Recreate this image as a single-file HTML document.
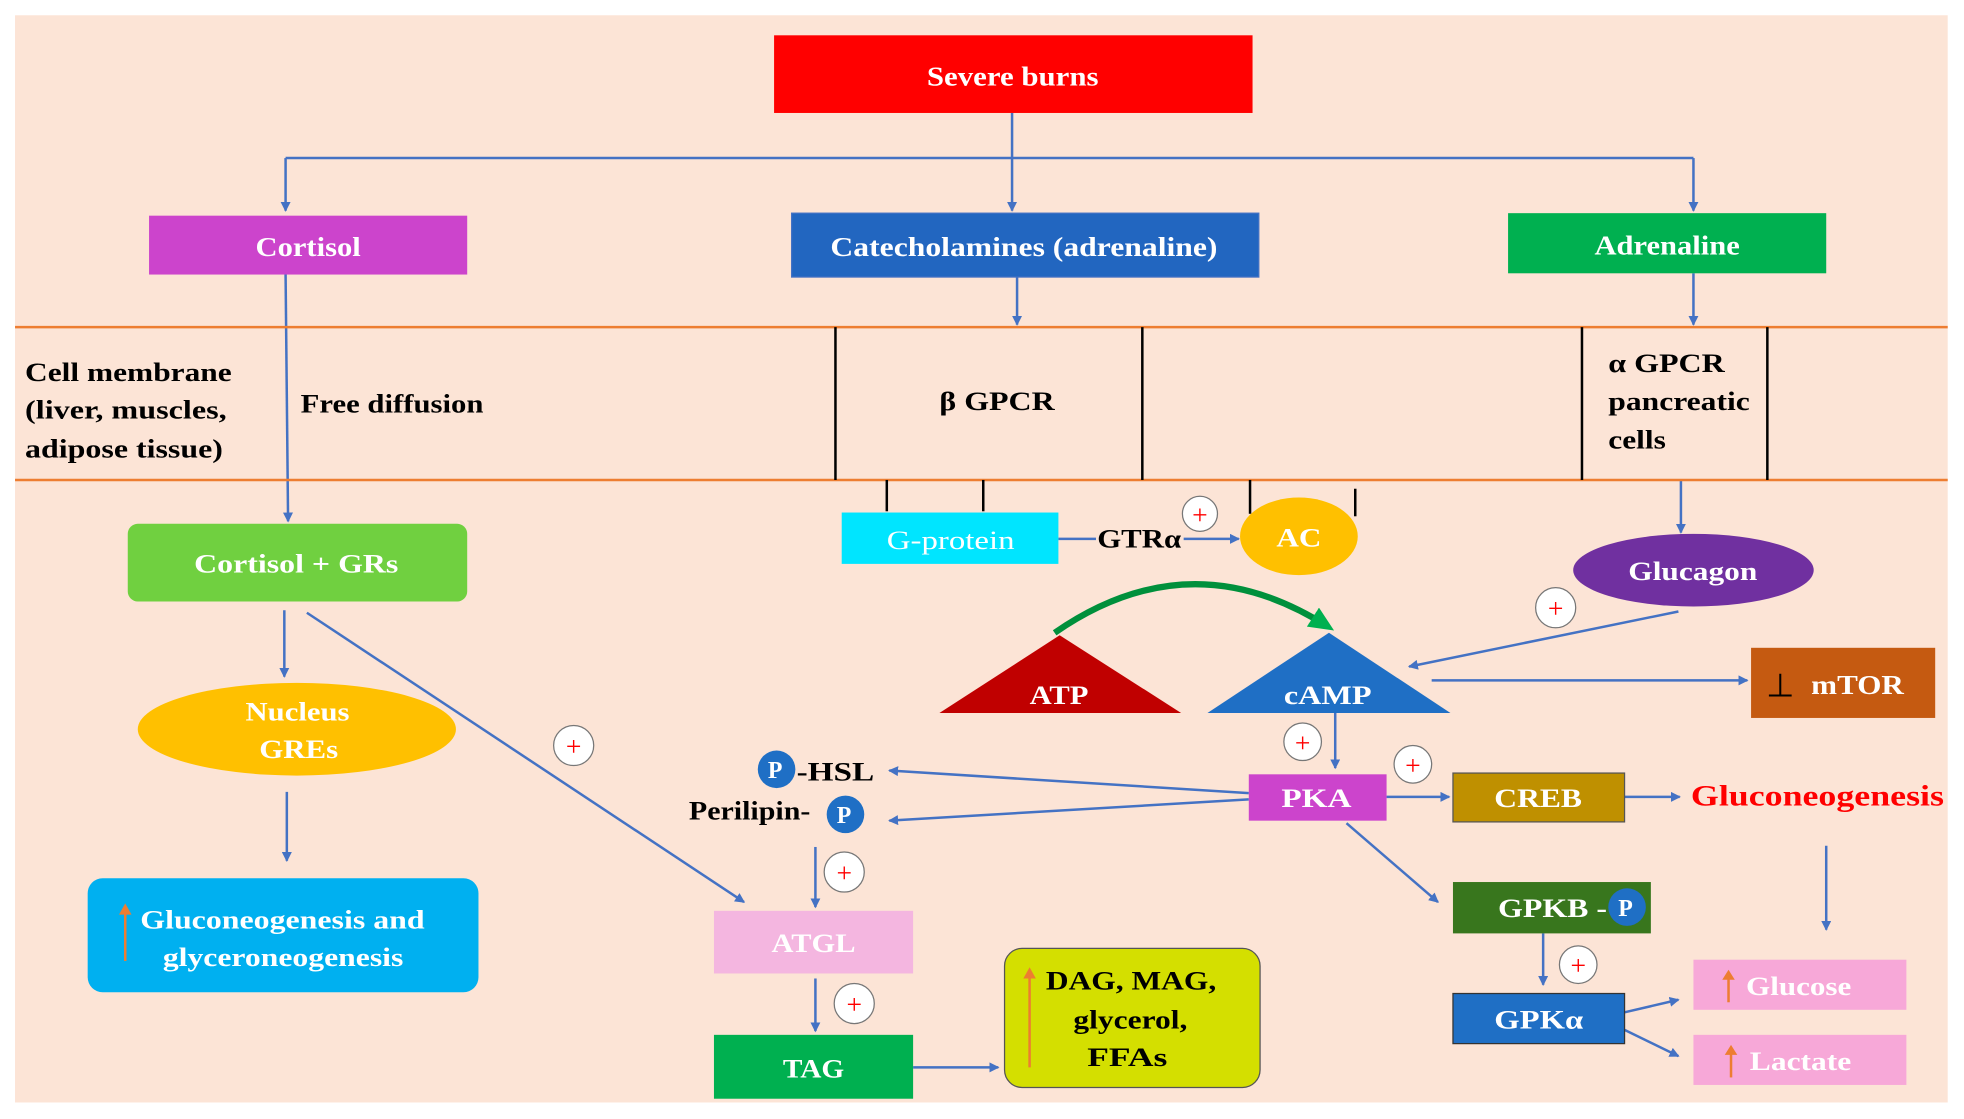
<!DOCTYPE html>
<html><head><meta charset="utf-8"><style>
html,body{margin:0;padding:0;background:#fff;}
svg{display:block;}
text{font-family:"Liberation Serif",serif;font-weight:bold;}
</style></head><body>
<svg width="1964" height="1119" viewBox="0 0 1568 893" xmlns="http://www.w3.org/2000/svg">
<defs>
<marker id="a" markerWidth="8" markerHeight="8" refX="7" refY="4" orient="auto" markerUnits="userSpaceOnUse"><path d="M0,0 L8,4 L0,8 z" fill="#4472c4"/></marker>
<marker id="g" markerWidth="22" markerHeight="18" refX="14" refY="9" orient="auto" markerUnits="userSpaceOnUse"><path d="M0,0 L20,9 L0,18 z" fill="#00b050"/></marker>
</defs>
<rect x="12" y="12" width="1543" height="868" fill="#fce4d6"/>
<g stroke="#4472c4" stroke-width="2" fill="none">
<line x1="228" y1="126" x2="1352" y2="126"/>
<line x1="228" y1="126" x2="228" y2="168" marker-end="url(#a)"/>
<line x1="808" y1="90" x2="808" y2="168" marker-end="url(#a)"/>
<line x1="1352" y1="126" x2="1352" y2="168" marker-end="url(#a)"/>
<line x1="812" y1="221" x2="812" y2="259" marker-end="url(#a)"/>
<line x1="1352" y1="218" x2="1352" y2="259" marker-end="url(#a)"/>
<line x1="228" y1="219" x2="230" y2="416" marker-end="url(#a)"/>
<line x1="845" y1="430" x2="875" y2="430"/>
<line x1="945" y1="430" x2="989" y2="430" marker-end="url(#a)"/>
<line x1="1342" y1="383" x2="1342" y2="425" marker-end="url(#a)"/>
<line x1="1340" y1="488" x2="1125" y2="532" marker-end="url(#a)"/>
<line x1="1143" y1="543" x2="1395" y2="543" marker-end="url(#a)"/>
<line x1="1066" y1="569" x2="1066" y2="613" marker-end="url(#a)"/>
<line x1="1107" y1="636" x2="1157" y2="636" marker-end="url(#a)"/>
<line x1="1297" y1="636" x2="1341" y2="636" marker-end="url(#a)"/>
<line x1="997" y1="633" x2="710" y2="615" marker-end="url(#a)"/>
<line x1="997" y1="638" x2="710" y2="655" marker-end="url(#a)"/>
<line x1="1075" y1="657" x2="1148" y2="720" marker-end="url(#a)"/>
<line x1="1232" y1="745" x2="1232" y2="786" marker-end="url(#a)"/>
<line x1="1297" y1="808" x2="1340" y2="798" marker-end="url(#a)"/>
<line x1="1297" y1="822" x2="1340" y2="843" marker-end="url(#a)"/>
<line x1="1458" y1="675" x2="1458" y2="742" marker-end="url(#a)"/>
<line x1="227" y1="487" x2="227" y2="540" marker-end="url(#a)"/>
<line x1="229" y1="632" x2="229" y2="687" marker-end="url(#a)"/>
<line x1="245" y1="489" x2="594" y2="720" marker-end="url(#a)"/>
<line x1="651" y1="676" x2="651" y2="724" marker-end="url(#a)"/>
<line x1="651" y1="781" x2="651" y2="823" marker-end="url(#a)"/>
<line x1="729" y1="852" x2="797" y2="852" marker-end="url(#a)"/>
</g>
<g stroke="#ed7d31" stroke-width="2"><line x1="12" y1="261" x2="1555" y2="261"/><line x1="12" y1="383" x2="1555" y2="383"/></g>
<g stroke="#000" stroke-width="2">
<line x1="667" y1="261" x2="667" y2="383"/><line x1="912" y1="261" x2="912" y2="383"/>
<line x1="1263" y1="261" x2="1263" y2="383"/><line x1="1411" y1="261" x2="1411" y2="383"/>
<line x1="708" y1="383" x2="708" y2="408"/><line x1="785" y1="383" x2="785" y2="408"/>
<line x1="998" y1="383" x2="998" y2="410"/><line x1="1082" y1="390" x2="1082" y2="412"/>
</g>
<rect x="618" y="28" width="382" height="62" fill="#ff0000"/>
<text x="740" y="68" font-size="22" fill="#fff" textLength="137" lengthAdjust="spacingAndGlyphs">Severe burns</text>
<rect x="119" y="172" width="254" height="47" fill="#cc44cc"/>
<text x="204" y="204" font-size="22" fill="#fff" textLength="84" lengthAdjust="spacingAndGlyphs">Cortisol</text>
<rect x="632" y="170" width="373" height="51" fill="#2266c0" stroke="#4472c4"/>
<text x="663" y="204" font-size="22" fill="#fff" textLength="309" lengthAdjust="spacingAndGlyphs">Catecholamines (adrenaline)</text>
<rect x="1204" y="170" width="254" height="48" fill="#00b050"/>
<text x="1273" y="203" font-size="22" fill="#fff" textLength="116" lengthAdjust="spacingAndGlyphs">Adrenaline</text>
<g font-size="21" fill="#000">
<text x="20" y="304" textLength="165" lengthAdjust="spacingAndGlyphs">Cell membrane</text>
<text x="20" y="334" textLength="161" lengthAdjust="spacingAndGlyphs">(liver, muscles,</text>
<text x="20" y="365" textLength="158" lengthAdjust="spacingAndGlyphs">adipose tissue)</text>
<text x="240" y="329" textLength="146" lengthAdjust="spacingAndGlyphs">Free diffusion</text>
<text x="750" y="327" textLength="92" lengthAdjust="spacingAndGlyphs">β GPCR</text>
<text x="1284" y="297" textLength="93" lengthAdjust="spacingAndGlyphs">α GPCR</text>
<text x="1284" y="327" textLength="113" lengthAdjust="spacingAndGlyphs">pancreatic</text>
<text x="1284" y="358" textLength="46" lengthAdjust="spacingAndGlyphs">cells</text>
</g>
<rect x="672" y="409" width="173" height="41" fill="#00e5ff"/>
<text x="708" y="438" font-size="21" fill="#fff" font-weight="normal" style="font-weight:normal" textLength="102" lengthAdjust="spacingAndGlyphs">G-protein</text>
<text x="876" y="437" font-size="21" fill="#000" textLength="67" lengthAdjust="spacingAndGlyphs">GTRα</text>
<ellipse cx="1037" cy="428" rx="47" ry="31" fill="#ffc000"/>
<text x="1019" y="436" font-size="21" fill="#fff" textLength="36" lengthAdjust="spacingAndGlyphs">AC</text>
<ellipse cx="1352" cy="455" rx="96" ry="29" fill="#7030a0"/>
<text x="1300" y="463" font-size="21" fill="#fff" textLength="103" lengthAdjust="spacingAndGlyphs">Glucagon</text>
<path d="M842,505 Q950,430 1060,500" stroke="#00903c" stroke-width="5" fill="none" marker-end="url(#g)"/>
<polygon points="750,569 943,569 846,507" fill="#c00000"/>
<text x="822" y="562" font-size="21" fill="#fff" textLength="47" lengthAdjust="spacingAndGlyphs">ATP</text>
<polygon points="964,569 1158,569 1061,505" fill="#1f6fc5"/>
<text x="1025" y="562" font-size="21" fill="#fff" textLength="70" lengthAdjust="spacingAndGlyphs">cAMP</text>
<rect x="1398" y="517" width="147" height="56" fill="#c55a11"/>
<text x="1410" y="556" font-size="26" fill="#000" style="font-weight:normal">⊥</text>
<text x="1446" y="554" font-size="22" fill="#fff" textLength="74" lengthAdjust="spacingAndGlyphs">mTOR</text>
<rect x="997" y="618" width="110" height="37" fill="#cc44cc"/>
<text x="1023" y="644" font-size="21" fill="#fff" textLength="56" lengthAdjust="spacingAndGlyphs">PKA</text>
<rect x="1160" y="617" width="137" height="39" fill="#bf9000" stroke="#555"/>
<text x="1193" y="644" font-size="21" fill="#fff" textLength="70" lengthAdjust="spacingAndGlyphs">CREB</text>
<text x="1350" y="643" font-size="24" fill="#ff0000" textLength="202" lengthAdjust="spacingAndGlyphs">Gluconeogenesis</text>
<circle cx="620" cy="614" r="15" fill="#1f6fc5"/><text x="613" y="621" font-size="19" fill="#fff">P</text>
<text x="636" y="623" font-size="21" fill="#000" textLength="62" lengthAdjust="spacingAndGlyphs">-HSL</text>
<text x="550" y="654" font-size="21" fill="#000" textLength="97" lengthAdjust="spacingAndGlyphs">Perilipin-</text>
<circle cx="675" cy="650" r="15" fill="#1f6fc5"/><text x="668" y="657" font-size="19" fill="#fff">P</text>
<rect x="1160" y="704" width="158" height="41" fill="#38761d"/>
<text x="1196" y="732" font-size="21" fill="#fff" textLength="87" lengthAdjust="spacingAndGlyphs">GPKB -</text>
<circle cx="1299" cy="724" r="15" fill="#1f6fc5"/><text x="1292" y="731" font-size="19" fill="#fff">P</text>
<rect x="1160" y="793" width="137" height="40" fill="#1f6fc5" stroke="#333"/>
<text x="1193" y="821" font-size="21" fill="#fff" textLength="71" lengthAdjust="spacingAndGlyphs">GPKα</text>
<rect x="1352" y="766" width="170" height="40" fill="#f7a8d8"/>
<text x="1394" y="794" font-size="21" fill="#fff" textLength="84" lengthAdjust="spacingAndGlyphs">Glucose</text>
<rect x="1352" y="826" width="170" height="40" fill="#f7a8d8"/>
<text x="1397" y="854" font-size="21" fill="#fff" textLength="81" lengthAdjust="spacingAndGlyphs">Lactate</text>
<rect x="102" y="418" width="271" height="62" rx="8" fill="#70d040"/>
<text x="155" y="457" font-size="21" fill="#fff" textLength="163" lengthAdjust="spacingAndGlyphs">Cortisol + GRs</text>
<ellipse cx="237" cy="582" rx="127" ry="37" fill="#ffc000"/>
<text x="196" y="575" font-size="21" fill="#fff" textLength="83" lengthAdjust="spacingAndGlyphs">Nucleus</text>
<text x="207" y="605" font-size="21" fill="#fff" textLength="63" lengthAdjust="spacingAndGlyphs">GREs</text>
<rect x="70" y="701" width="312" height="91" rx="12" fill="#00b0f0"/>
<text x="112" y="741" font-size="21" fill="#fff" textLength="227" lengthAdjust="spacingAndGlyphs">Gluconeogenesis  and</text>
<text x="130" y="771" font-size="21" fill="#fff" textLength="192" lengthAdjust="spacingAndGlyphs">glyceroneogenesis</text>
<rect x="570" y="727" width="159" height="50" fill="#f4b6e0"/>
<text x="616" y="760" font-size="21" fill="#fff" textLength="67" lengthAdjust="spacingAndGlyphs">ATGL</text>
<rect x="570" y="826" width="159" height="51" fill="#00b050"/>
<text x="625" y="860" font-size="21" fill="#fff" textLength="49" lengthAdjust="spacingAndGlyphs">TAG</text>
<rect x="802" y="757" width="204" height="111" rx="14" fill="#d4df00" stroke="#555"/>
<text x="835" y="790" font-size="21" fill="#000" textLength="136" lengthAdjust="spacingAndGlyphs">DAG, MAG,</text>
<text x="857" y="821" font-size="21" fill="#000" textLength="91" lengthAdjust="spacingAndGlyphs">glycerol,</text>
<text x="868" y="851" font-size="21" fill="#000" textLength="64" lengthAdjust="spacingAndGlyphs">FFAs</text>
<g stroke="#ed7d31" stroke-width="2"><line x1="1380" y1="800" x2="1380" y2="778"/><line x1="1382" y1="860" x2="1382" y2="838"/><line x1="100" y1="767" x2="100" y2="726"/><line x1="822" y1="852" x2="822" y2="777"/></g>
<g fill="#ed7d31"><path d="M1375,782 L1380,774 L1385,782z"/><path d="M1377,842 L1382,834 L1387,842z"/><path d="M95,730 L100,721 L105,730z"/><path d="M817,781 L822,772 L827,781z"/></g>
<g fill="#fff" stroke="#777" stroke-width="1">
<circle cx="958" cy="410" r="14"/><circle cx="1242" cy="485" r="16"/><circle cx="1040" cy="592" r="15"/><circle cx="1128" cy="610" r="15"/><circle cx="1260" cy="770" r="15"/><circle cx="458" cy="595" r="16"/><circle cx="674" cy="696" r="16"/><circle cx="682" cy="801" r="16"/>
</g>
<g fill="#ff0000" font-size="22" text-anchor="middle">
<text x="958" y="418" style="font-weight:normal">+</text><text x="1242" y="493" style="font-weight:normal">+</text><text x="1040" y="600" style="font-weight:normal">+</text><text x="1128" y="618" style="font-weight:normal">+</text><text x="1260" y="778" style="font-weight:normal">+</text><text x="458" y="603" style="font-weight:normal">+</text><text x="674" y="704" style="font-weight:normal">+</text><text x="682" y="809" style="font-weight:normal">+</text>
</g>
</svg>
</body></html>
